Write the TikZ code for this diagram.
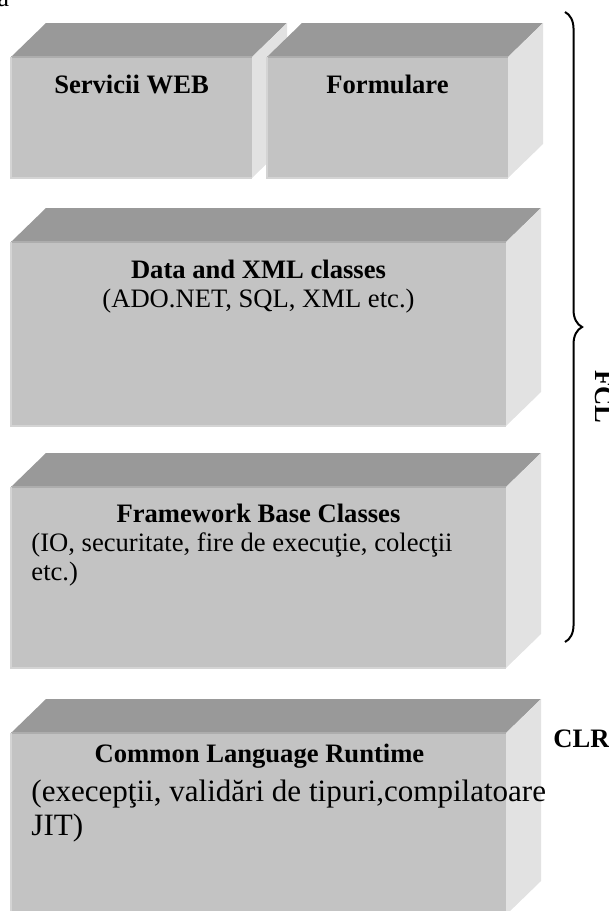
\documentclass[tikz,border=0pt]{standalone}
\usepackage{fontspec}
\setmainfont{Liberation Serif}
\usepackage{tikz}
\usetikzlibrary{fit,decorations.pathreplacing}
\definecolor{frontgray}{HTML}{C3C3C3}
\definecolor{topgray}{HTML}{999999}
\definecolor{sidegray}{HTML}{E2E2E2}
\definecolor{edgelight}{HTML}{D4D4D4}
\definecolor{edgedark}{HTML}{ADADAD}
% top and right faces of a block, drawn on its front node
\newcommand{\blockfaces}[1]{%
  \fill[topgray] (#1.north west) -- ++(35,-34) -- ([shift={(35,-34)}]#1.north east) -- (#1.north east) -- cycle;
  \fill[sidegray] (#1.north east) -- ++(35,-34) -- ([shift={(35,-34)}]#1.south east) -- (#1.south east) -- cycle;
  \draw[edgedark,line width=0.9pt] (#1.north west) -- (#1.north east);
  \draw[edgelight,line width=0.9pt] (#1.north west) -- (#1.south west) -- (#1.south east);
}

\begin{document}
\begin{tikzpicture}[
  x=0.451pt,y=-0.451pt,
  front/.style={rectangle,fill=frontgray,inner sep=0pt,outer sep=0pt},
  title/.style={font=\fontsize{12}{14}\selectfont\bfseries,inner sep=0pt,anchor=base},
  desc/.style={font=\fontsize{12}{14}\selectfont,inner sep=0pt,anchor=base west},
  fclbrace/.style={decorate,decoration={brace,amplitude=7.7pt},line width=0.9pt}
]
\useasboundingbox (0,0) rectangle (608,911);
\node[desc] (pagea) at (-3,6) {a};
% upper row
\node[front,fit={(11,57) (252,178)}] (web) {};
\blockfaces{web}
\node[front,fit={(267,57) (508,178)}] (form) {};
\blockfaces{form}
\node[title] (webtitle) at (131.5,93) {Servicii WEB};
\node[title] (formtitle) at (387.5,93) {Formulare};
% data
\node[front,fit={(11,242) (506,426)}] (data) {};
\blockfaces{data}
\node[title] (datatitle) at (258.5,278) {Data and XML classes};
\node[desc,anchor=base] (datadesc) at (258.5,307) {(ADO.NET, SQL, XML etc.)};
% base classes
\node[front,fit={(11,487) (506,668)}] (base) {};
\blockfaces{base}
\node[title] (basetitle) at (258.5,522) {Framework Base Classes};
\node[desc] (basedesc) at (31,551) {(IO, securitate, fire de execuţie, colecţii};
\node[desc] (basedescb) at (31,580) {etc.)};
% runtime
\node[front,fit={(11,733) (506,915)}] (clrbox) {};
\blockfaces{clrbox}
\node[title] (clrtitle) at (259.5,762) {Common Language Runtime};
\node[desc,font=\fontsize{14}{16}\selectfont] (clrdesc) at (31,801) {(execepţii, validări de tipuri,compilatoare};
\node[desc,font=\fontsize{14}{16}\selectfont] (clrdescb) at (31,835) {JIT)};
\node[title,anchor=base west] (clr) at (553,747) {CLR};
% brace
\coordinate (bracetop) at (565,12);
\coordinate (bracebot) at (565,642);
\draw[fclbrace] (bracetop) -- (bracebot);
\node[title,anchor=base west,rotate=-90] (fcl) at (595,370) {FCL};
\end{tikzpicture}
\end{document}
